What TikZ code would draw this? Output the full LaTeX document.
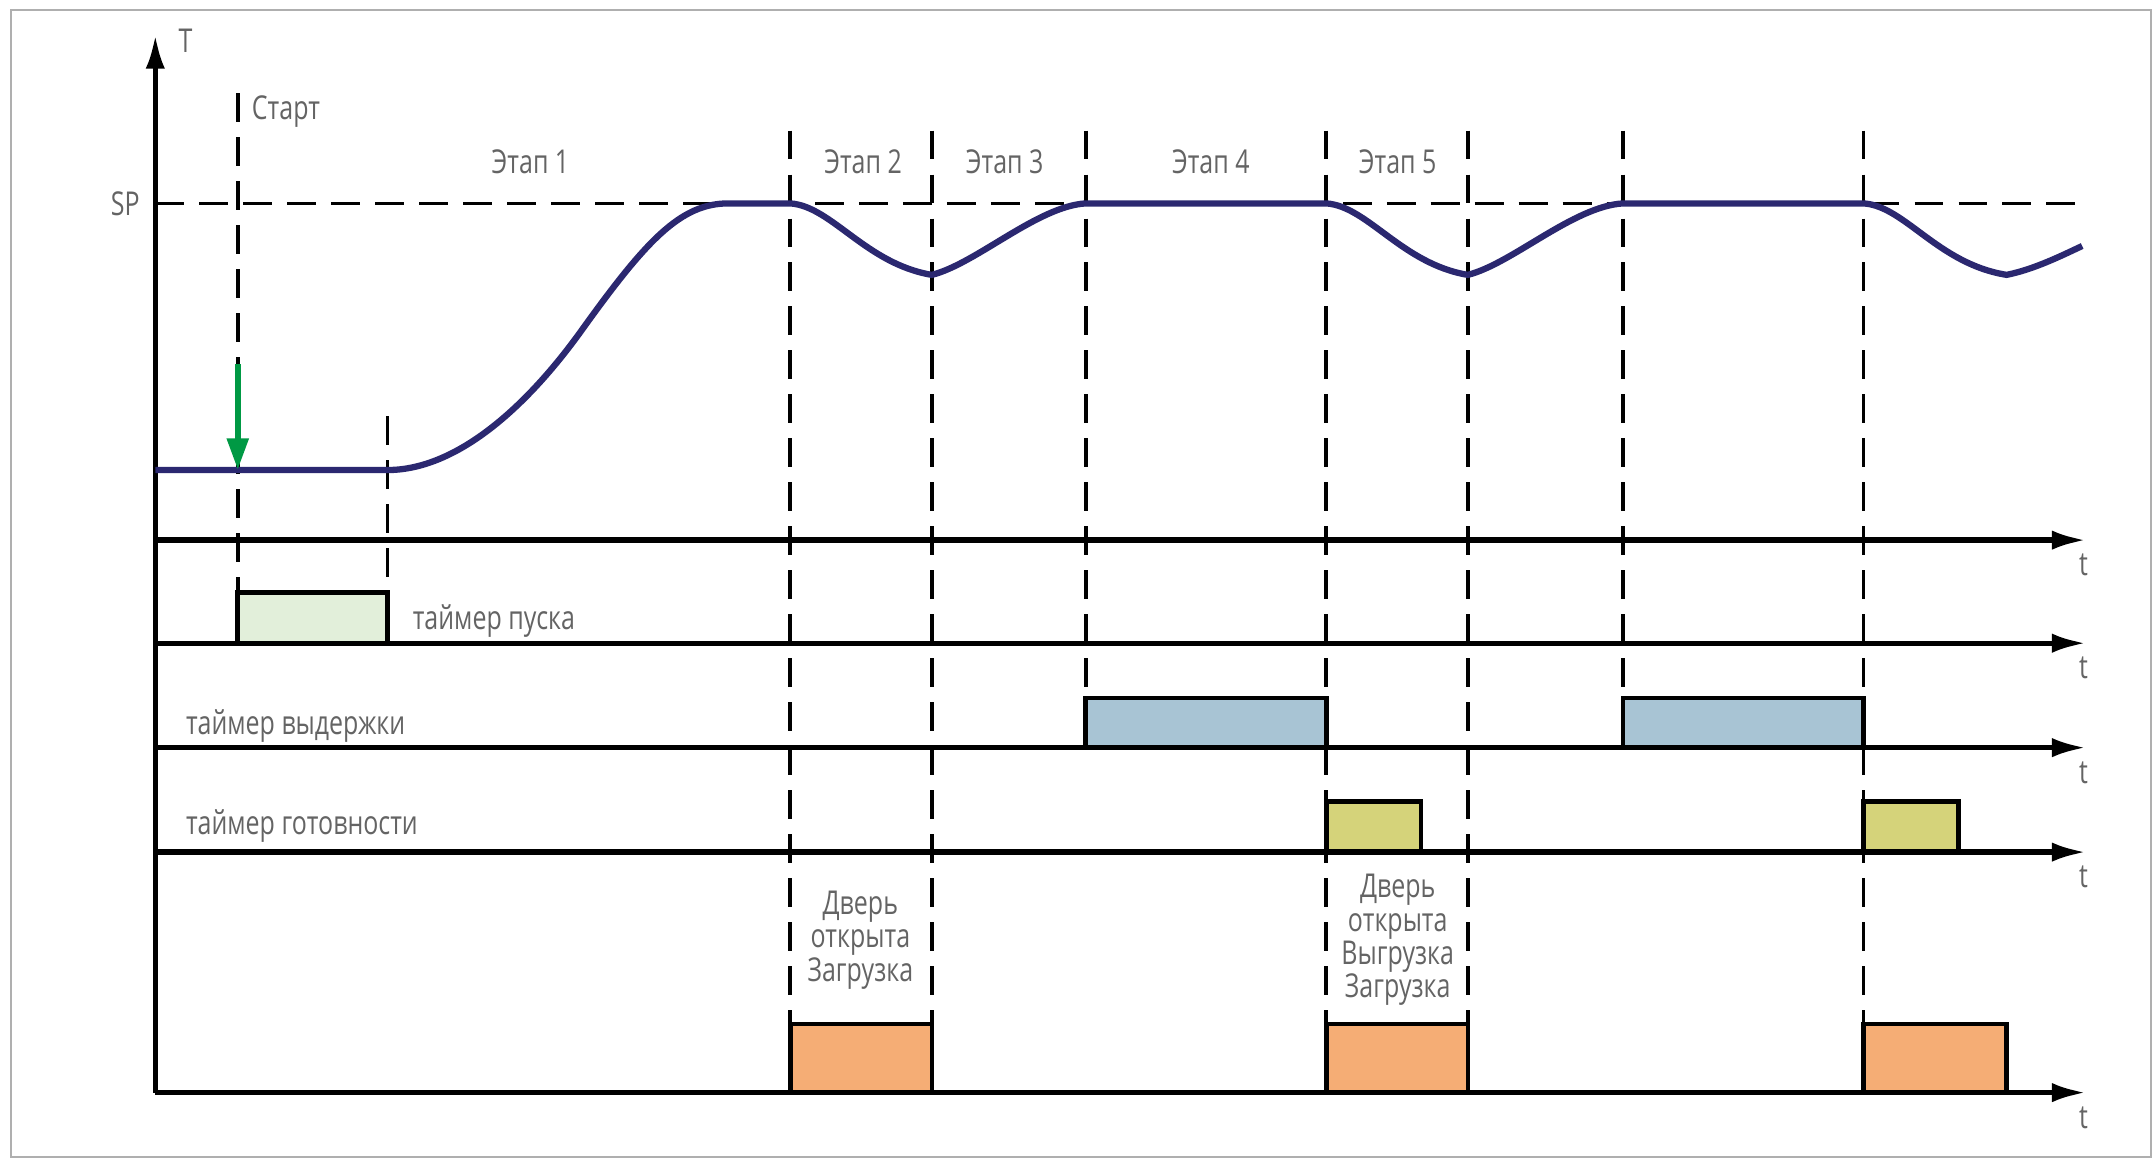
\documentclass[tikz,border=0pt]{standalone}
\usepackage{fontspec}
\setmainfont[FakeStretch=0.76]{Open Sans}
\usetikzlibrary{arrows.meta}
\usetikzlibrary{positioning}

\definecolor{navy}{RGB}{43,40,112}
\definecolor{startgreen}{RGB}{0,153,68}
\definecolor{labelgray}{RGB}{100,100,100}
\definecolor{framegray}{RGB}{175,175,175}
\definecolor{launchfill}{RGB}{226,239,218}
\definecolor{holdfill}{RGB}{168,196,212}
\definecolor{readyfill}{RGB}{213,211,122}
\definecolor{doorfill}{RGB}{245,173,117}

\tikzset{
  axis/.style={line width=2.2pt, -{Latex[length=5mm,width=2.8mm]}},
  guide/.style={line width=1.5pt, dash pattern=on 4.2mm off 2.2mm},
  temp/.style={line width=2.6pt, draw=navy},
  timer/.style={draw, line width=1.9pt},
  lbl/.style={text=labelgray, inner sep=0pt, font=\fontsize{13.6}{13.8}\selectfont},
}

\begin{document}
\begin{tikzpicture}[x=0.2mm, y=-0.2mm]
  \useasboundingbox (0,0) rectangle (1568,843);
  \draw[framegray, line width=0.9pt, fill=white] (8,7) rectangle (1565,842);

  % guides
  \draw[guide] (113,148) -- (1515,148);
  \draw[guide] (173,68) -- (173,431);
  \draw[guide] (282,303) -- (282,431);
  \foreach \x/\y in {575/745, 678/745, 790/508, 965/745, 1068/745, 1181/508, 1356/745}
    \draw[guide] (\x,95) -- (\x,\y);

  % timers
  \draw[timer, fill=launchfill] (173,468) rectangle (282,431);
  \draw[timer, fill=holdfill] (790,544) rectangle (965,508);
  \draw[timer, fill=holdfill] (1181,544) rectangle (1356,508);
  \draw[timer, fill=readyfill] (965,620) rectangle (1034,583);
  \draw[timer, fill=readyfill] (1356,620) rectangle (1425,583);
  \draw[timer, fill=doorfill] (575,795) rectangle (678,745);
  \draw[timer, fill=doorfill] (965,795) rectangle (1068,745);
  \draw[timer, fill=doorfill] (1356,795) rectangle (1460,745);

  % axes
  \draw[axis] (113,795) -- (113,25) coordinate (top);
  \node[lbl] (T) at (135,30) {T};
  \foreach \y [count=\i] in {393,468,544,620,795} {
    \draw[axis] (113,\y) -- (1518,\y) coordinate (ax\i);
    \node[lbl] (t\i) at ([shift={(-2,18)}]ax\i) {t};
  }
  \node[lbl, anchor=east] (sp) at (102,148) {SP};

  % temperature
  \draw[temp] (113,342) -- (282,342)
    .. controls (330,342) and (380,300) .. (422,242)
    .. controls (470,175) and (495,148) .. (530,148) -- (575,148)
    .. controls (605,150) and (630,192) .. (678,200)
    .. controls (710,192) and (755,150) .. (790,148) -- (965,148)
    .. controls (995,150) and (1020,192) .. (1068,200)
    .. controls (1100,192) and (1145,150) .. (1181,148) -- (1356,148)
    .. controls (1386,150) and (1410,192) .. (1460,200)
    .. controls (1480,196) and (1500,186) .. (1515,179);
  \draw[startgreen, line width=2.6pt, -{Triangle[length=4.6mm,width=3mm]}] (173,265) -- (173,342);

  % labels
  \node[lbl, anchor=west] (start) at (183,81) {Старт};
  \node[lbl] (st1) at (386,118) {Этап 1};
  \node[lbl] (st2) at (628,118) {Этап 2};
  \node[lbl] (st3) at (731,118) {Этап 3};
  \node[lbl] (st4) at (881,118) {Этап 4};
  \node[lbl] (st5) at (1017,118) {Этап 5};
  \node[lbl, anchor=west] (launch) at (300,452) {таймер пуска};
  \node[lbl, anchor=west] (hold) at (135,528) {таймер выдержки};
  \node[lbl, anchor=west] (ready) at (135,601) {таймер готовности};
  \node[lbl, align=center] (door1) at (626,684) {Дверь\\открыта\\Загрузка};
  \node[lbl, align=center] (door2) at (1017,684) {Дверь\\открыта\\Выгрузка\\Загрузка};
\end{tikzpicture}
\end{document}
